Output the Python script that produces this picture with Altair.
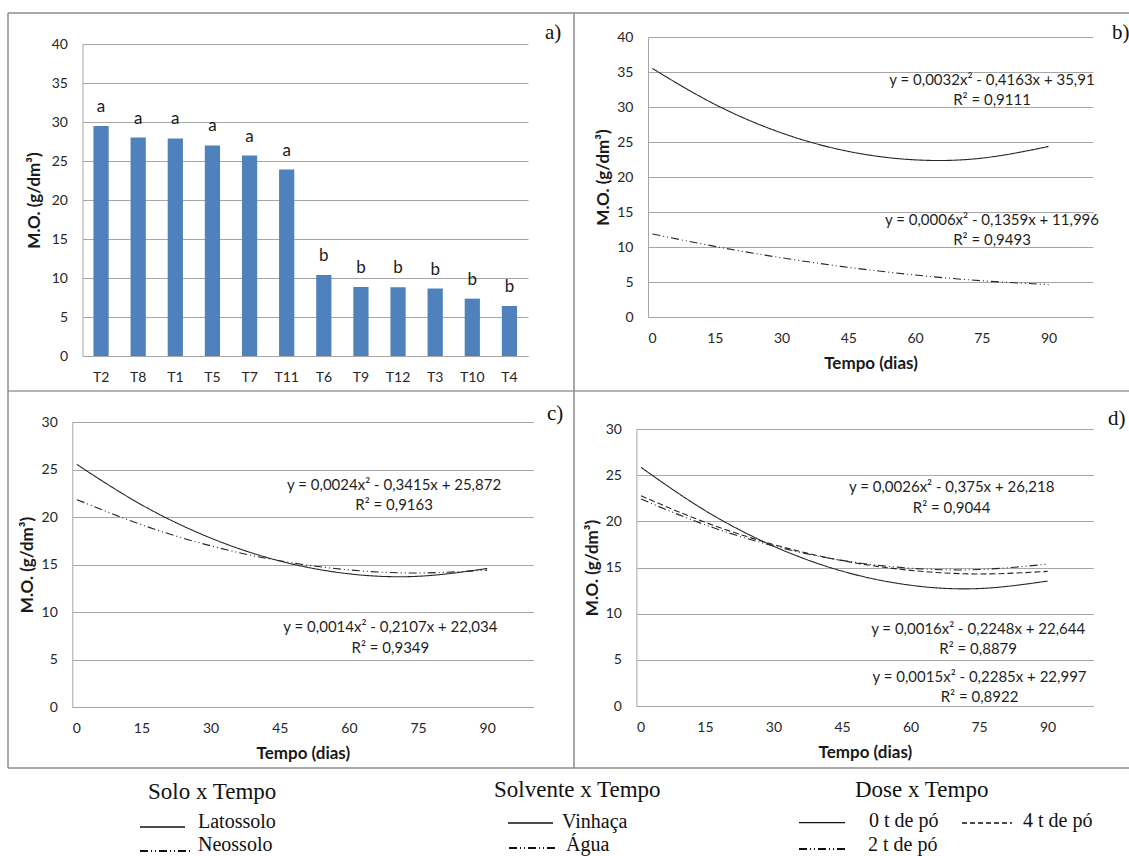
import altair as alt
import pandas as pd

W, H = 1129, 856

# ---------------- data ----------------
# a) mean organic matter per treatment, with Tukey letters
treatments = ["T2", "T8", "T1", "T5", "T7", "T11", "T6", "T9", "T12", "T3", "T10", "T4"]
mo_means = [29.5, 28.0, 27.9, 27.0, 25.7, 23.9, 10.4, 8.85, 8.8, 8.65, 7.35, 6.4]
tukey = ["a", "a", "a", "a", "a", "a", "b", "b", "b", "b", "b", "b"]

# b), c), d) fitted organic matter over time (g/dm3)
days = [1, 15, 30, 45, 60, 75, 90]
latossolo = [35.50, 30.39, 26.30, 23.66, 22.45, 22.69, 24.36]
neossolo = [11.86, 10.09, 8.46, 7.10, 6.00, 5.18, 4.63]
vinhaca = [25.53, 21.29, 17.79, 15.37, 14.02, 13.76, 14.58]
agua = [21.83, 19.19, 16.97, 15.39, 14.43, 14.11, 14.41]
dose_0t = [25.85, 21.18, 17.31, 14.61, 13.08, 12.72, 13.53]
dose_2t = [22.42, 19.63, 17.34, 15.77, 14.92, 14.78, 15.37]
dose_4t = [22.77, 19.91, 17.49, 15.75, 14.69, 14.30, 14.58]

eq_solo = ["y = 0,0032x² - 0,4163x + 35,91", "R² = 0,9111",
           "y = 0,0006x² - 0,1359x + 11,996", "R² = 0,9493"]
eq_solvente = ["y = 0,0024x² - 0,3415x + 25,872", "R² = 0,9163",
               "y = 0,0014x² - 0,2107x + 22,034", "R² = 0,9349"]
eq_dose = ["y = 0,0026x² - 0,375x + 26,218", "R² = 0,9044",
           "y = 0,0016x² - 0,2248x + 22,644", "R² = 0,8879",
           "y = 0,0015x² - 0,2285x + 22,997", "R² = 0,8922"]

# ---------------- layout of the four panels (pixels) ----------------
PANEL = {
    "a": dict(x0=82.5, x1=528.0, y0=356.0, y1=44.0, ytitle=-48.5),
    "b": dict(x0=648.0, x1=1093.0, y0=317.0, y1=37.0, ytitle=-45.0),
    "c": dict(x0=72.3, x1=533.3, y0=707.0, y1=422.0, ytitle=-45.0),
    "d": dict(x0=636.4, x1=1093.3, y0=706.0, y1=429.0, ytitle=-44.3),
}

GRID = "#a6a6a6"
INK = "#262626"
SANS = "Lato"
SERIF = "Liberation Serif"
SOLID = [1, 0]
DASH_DOT_DOT = [8, 3, 1, 3, 1, 3]
DASHED = [6, 3]


def y_enc(p, top, field="mo", with_axis=True):
    axis = None
    if with_axis:
        axis = alt.Axis(orient="left", offset=-p["x0"], values=list(range(0, top + 1, 5)),
                        title="M.O. (g/dm³)", titleX=p["ytitle"],
                        titleY=(p["y0"] + p["y1"]) / 2, titleAngle=270,
                        titleAlign="center", titleBaseline="middle",
                        grid=True, labelPadding=15)
    return alt.Y(f"{field}:Q",
                 scale=alt.Scale(domain=[0, top], range=[p["y0"], p["y1"]], nice=False, zero=False),
                 axis=axis)


def days_enc(p, with_axis=True):
    axis = None
    if with_axis:
        axis = alt.Axis(orient="bottom", offset=p["y0"] - H, values=[0, 15, 30, 45, 60, 75, 90],
                        title="Tempo (dias)", titleX=(p["x0"] + p["x1"]) / 2, titleY=46.5,
                        titleAlign="center", titleBaseline="middle",
                        grid=False, labelPadding=14)
    return alt.X("dia:Q",
                 scale=alt.Scale(domain=[0, 100], range=[p["x0"], p["x1"]], nice=False, zero=False),
                 axis=axis)


def series_frame(pairs):
    rows = []
    for name, vals in pairs:
        for d, v in zip(days, vals):
            rows.append({"dia": d, "mo": v, "serie": name})
    return pd.DataFrame(rows)


def curve_panel(p, top, pairs, dashes, notes):
    df = series_frame(pairs)
    names = [n for n, _ in pairs]
    lines = alt.Chart(df).mark_line(interpolate="natural", strokeWidth=1.1, color=INK).encode(
        x=days_enc(p),
        y=y_enc(p, top),
        strokeDash=alt.StrokeDash("serie:N", scale=alt.Scale(domain=names, range=dashes), legend=None),
    )
    notes_df = pd.DataFrame(notes, columns=["dia", "mo", "txt"])
    text = alt.Chart(notes_df).mark_text(font=SANS, fontSize=15, color="#1f1f1f",
                                         align="center", baseline="middle").encode(
        x=days_enc(p, with_axis=False),
        y=y_enc(p, top, with_axis=False),
        text="txt:N",
    )
    return [lines, text]


# ---------------- a) bar chart ----------------
pa = PANEL["a"]
bars_df = pd.DataFrame({"trat": treatments, "mo": mo_means, "letra": tukey})


def trat_enc(with_axis=True):
    axis = None
    if with_axis:
        axis = alt.Axis(orient="bottom", offset=pa["y0"] - H, title=None, labelAngle=0,
                        grid=False, labelPadding=14)
    return alt.X("trat:N", sort=treatments,
                 scale=alt.Scale(domain=treatments, range=[pa["x0"], pa["x1"]],
                                 paddingInner=0.59, paddingOuter=0.295),
                 axis=axis)


bars = alt.Chart(bars_df).mark_bar(color="#4f81bd").encode(x=trat_enc(), y=y_enc(pa, 40))
letters = alt.Chart(bars_df).mark_text(dy=-19, font=SANS, fontSize=17, color="#1a1a1a",
                                       baseline="middle").encode(
    x=trat_enc(False), y=y_enc(pa, 40, with_axis=False), text="letra:N")

# ---------------- b), c), d) fitted curves ----------------
panel_b = curve_panel(PANEL["b"], 40, [("Latossolo", latossolo), ("Neossolo", neossolo)],
                      [SOLID, DASH_DOT_DOT],
                      [(77.3, 33.86, eq_solo[0]), (77.3, 31.0, eq_solo[1]),
                       (77.3, 13.86, eq_solo[2]), (77.3, 11.0, eq_solo[3])])
panel_c = curve_panel(PANEL["c"], 30, [("Vinhaça", vinhaca), ("Água", agua)],
                      [SOLID, DASH_DOT_DOT],
                      [(69.8, 23.4, eq_solvente[0]), (69.8, 21.3, eq_solvente[1]),
                       (69.0, 8.37, eq_solvente[2]), (69.0, 6.2, eq_solvente[3])])
panel_d = curve_panel(PANEL["d"], 30,
                      [("0 t de pó", dose_0t), ("2 t de pó", dose_2t), ("4 t de pó", dose_4t)],
                      [SOLID, DASH_DOT_DOT, DASHED],
                      [(69.0, 23.7, eq_dose[0]), (69.0, 21.45, eq_dose[1]),
                       (74.8, 8.37, eq_dose[2]), (74.8, 6.14, eq_dose[3]),
                       (75.1, 3.17, eq_dose[4]), (75.1, 1.0, eq_dose[5])])

# ---------------- frame, panel tags and figure legend ----------------
blank = pd.DataFrame({"k": [0]})


def hline(x1, x2, y, color, width, dash=None):
    props = dict(color=color, strokeWidth=width)
    if dash:
        props["strokeDash"] = dash
    return alt.Chart(blank).mark_rule(**props).encode(
        x=alt.value(x1), x2=alt.value(x2), y=alt.value(y))


def vline(x, y1, y2, color, width):
    return alt.Chart(blank).mark_rule(color=color, strokeWidth=width).encode(
        x=alt.value(x), y=alt.value(y1), y2=alt.value(y2))


def note(x, y, txt, size, font=SERIF, baseline="alphabetic", color="#111111"):
    return alt.Chart(blank).mark_text(text=txt, font=font, fontSize=size, color=color,
                                      align="left", baseline=baseline).encode(
        x=alt.value(x), y=alt.value(y))


FRAME = "#8c8c8c"
frame = [
    hline(8, W, 13, FRAME, 1.5),
    hline(8, W, 391, "#b4b4b4", 1.8),
    hline(8, W, 768, FRAME, 1.5),
    vline(8, 13, 768, FRAME, 1.5),
    vline(574, 13, 768, FRAME, 1.5),
]

tags = [
    note(545, 33, "a)", 21, baseline="middle"),
    note(1112, 33, "b)", 21, baseline="middle"),
    note(547, 414, "c)", 21, baseline="middle"),
    note(1108, 419, "d)", 21, baseline="middle"),
]

legend = [
    note(148, 799, "Solo x Tempo", 23),
    hline(140, 185, 827, "#111111", 1.3), note(198, 828, "Latossolo", 20),
    hline(140, 190, 851, "#111111", 2.0, DASH_DOT_DOT), note(198, 851, "Neossolo", 20),
    note(494, 797, "Solvente x Tempo", 23),
    hline(508, 553, 823, "#111111", 1.3), note(562, 828, "Vinhaça", 20),
    hline(509, 556, 848, "#111111", 2.0, DASH_DOT_DOT), note(566, 851, "Água", 20),
    note(855, 797, "Dose x Tempo", 23),
    hline(799, 845, 822.7, "#111111", 1.3), note(869, 827, "0 t de pó", 20),
    hline(962, 1012, 823, "#111111", 1.3, [5, 3]), note(1023, 827, "4 t de pó", 20),
    hline(799, 845, 849, "#111111", 2.0, DASH_DOT_DOT), note(868, 851, "2 t de pó", 20),
]

layers = [bars, letters] + panel_b + panel_c + panel_d + frame + tags + legend

chart = (
    alt.layer(*layers)
    .resolve_scale(x="independent", y="independent", strokeDash="independent")
    .resolve_axis(x="independent", y="independent")
    .properties(width=W, height=H, padding=0, background="white",
                autosize=alt.AutoSizeParams(type="none"))
    .configure_view(strokeWidth=0)
    .configure_axis(labelFont=SANS, labelFontSize=14, labelColor=INK,
                    titleFont=SANS, titleFontSize=17, titleFontWeight="bold", titleColor="#1a1a1a",
                    domainColor=GRID, domainWidth=1, gridColor=GRID, gridWidth=1,
                    ticks=False, tickSize=0)
)

chart.save("out.html", embed_options={"renderer": "svg", "actions": False})
